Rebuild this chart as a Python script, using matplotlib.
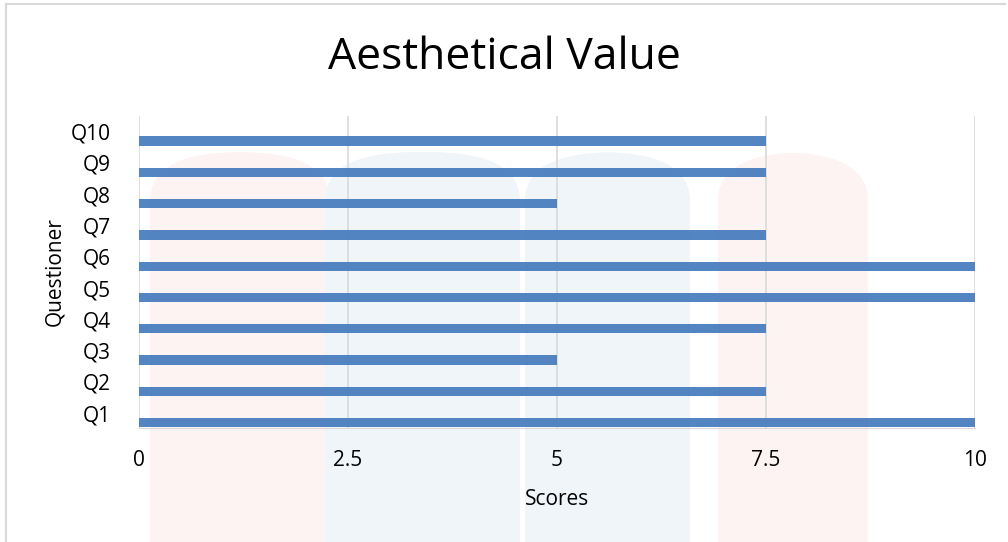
import numpy as np
import matplotlib.pyplot as plt
from matplotlib.patches import FancyBboxPatch
from matplotlib.lines import Line2D

questions = ["Q1", "Q2", "Q3", "Q4", "Q5", "Q6", "Q7", "Q8", "Q9", "Q10"]
scores = [10, 7.5, 5, 7.5, 10, 10, 7.5, 5, 7.5, 7.5]
xticks = [0, 2.5, 5, 7.5, 10]
xtick_labels = ["0", "2.5", "5", "7.5", "10"]

plt.rcParams['font.family'] = ['Open Sans', 'DejaVu Sans']

fig = plt.figure(figsize=(10.08, 5.42), dpi=100)
W, H = 1008, 542

# faint background logo (watermark)
def blob(x0, y0, x1, y1, color):
	p = FancyBboxPatch((x0 / W, 1 - y1 / H), (x1 - x0) / W, (y1 - y0) / H,
		boxstyle="round,pad=0,rounding_size=0.09", transform=fig.transFigure,
		facecolor=color, edgecolor="none", zorder=0)
	fig.patches.append(p)

blob(150, 152, 330, 620, "#fef3f3")
blob(325, 152, 520, 620, "#f0f5f9")
blob(525, 152, 690, 620, "#f0f5f9")
blob(718, 152, 868, 620, "#fef3f3")

# chart border
fig.add_artist(Line2D([6 / W, 6 / W], [0, 1 - 4 / H], color="#d9d9d9", lw=1.5))
fig.add_artist(Line2D([6 / W, 1005 / W], [1 - 4 / H, 1 - 4 / H], color="#d9d9d9", lw=1.5))

ax = fig.add_axes([139 / W, 1 - 428 / H, (975 - 139) / W, (428 - 116) / H])
ax.set_facecolor("none")
ax.set_zorder(2)

y = np.arange(len(questions))
ax.barh(y, scores, height=0.3, color="#4a7ebf", alpha=0.95, zorder=3)

ax.set_xlim(0, 10)
ax.set_ylim(-0.17, 9.8)
ax.set_xticks(xticks)
ax.set_xticklabels(xtick_labels)
ax.set_yticks(y + 0.3)
ax.set_yticklabels(questions)
ax.tick_params(axis="both", length=0, labelsize=15)
ax.tick_params(axis="x", pad=16)
ax.tick_params(axis="y", pad=20)

ax.grid(True, axis="x", color="#d9d9d9", lw=1.2, zorder=0)
for s in ["top", "right", "left"]:
	ax.spines[s].set_visible(False)
ax.spines["bottom"].set_color("#d9d9d9")

ax.set_xlabel("Scores", fontsize=15, labelpad=13)
ax.set_ylabel("Questioner", fontsize=15, labelpad=4)
fig.text(0.5, 1 - 58 / H, "Aesthetical Value", ha="center", va="center", fontsize=32)

plt.savefig("out.png", dpi=100)
